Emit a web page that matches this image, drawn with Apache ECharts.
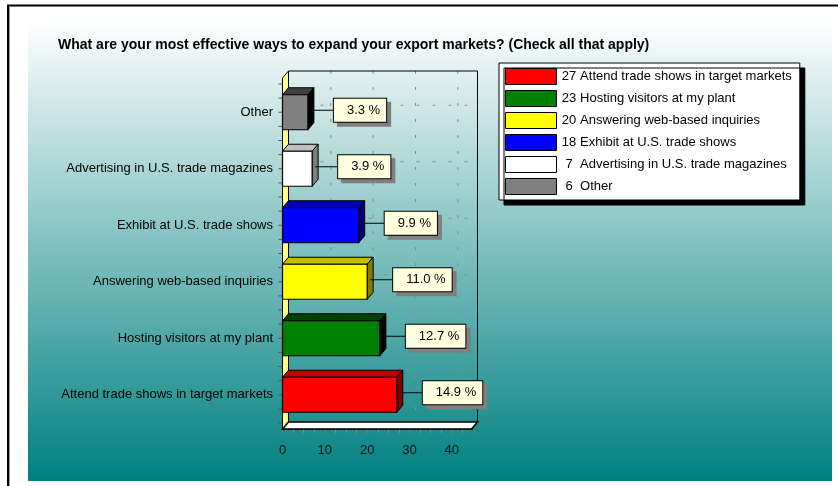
<!DOCTYPE html>
<html>
<head>
<meta charset="utf-8">
<script src="https://cdn.jsdelivr.net/npm/echarts@6/dist/echarts.min.js"></script>
<style>
  html, body { margin: 0; padding: 0; background: #ffffff; }
  #chart { width: 838px; height: 486px; }
</style>
</head>
<body>
<div id="chart"></div>
<script>
// Survey answers, bottom to top on the chart
const categories = [
  'Attend trade shows in target markets',
  'Hosting visitors at my plant',
  'Answering web-based inquiries',
  'Exhibit at U.S. trade shows',
  'Advertising in U.S. trade magazines',
  'Other'
];
const responses = [27, 23, 20, 18, 7, 6];
const percents = [14.9, 12.7, 11.0, 9.9, 3.9, 3.3];
const barColors = ['#ff0000', '#008000', '#ffff00', '#0000ff', '#ffffff', '#808080'];
const gridValues = [10, 20, 30, 40];
const axisMax = 45;

const FONT = '"Liberation Sans", Arial, sans-serif';
const DX = 6, DY = 7;          // depth of the pseudo-3D walls and bars

function shade(hex, amount) {
  const n = parseInt(hex.slice(1), 16);
  const r = Math.max(0, ((n >> 16) & 255) - amount);
  const g = Math.max(0, ((n >> 8) & 255) - amount);
  const b = Math.max(0, (n & 255) - amount);
  return 'rgb(' + r + ',' + g + ',' + b + ')';
}

// Walls, floor, back grid and category ticks
function renderFrame(params, api) {
  if (params.dataIndex !== 0) return;
  const o = api.coord([0, 0]);
  const bw = api.size([0, 1])[1];
  const n = categories.length;
  const x0 = o[0];
  const xe = api.coord([axisMax, 0])[0] - 1.5;
  const bottom = o[1] + bw / 2 + 6;
  const top = o[1] - bw * (n - 0.5) - 6;
  const children = [];
  const dash = { stroke: '#8a8a8a', lineWidth: 1, lineDash: [3, 13] };

  gridValues.forEach(function (v) {
    const x = api.coord([v, 0])[0] + DX;
    children.push({ type: 'line', shape: { x1: x, y1: top - DY, x2: x, y2: bottom - DY }, style: dash });
  });
  for (let i = 0; i < n; i++) {
    const y = api.coord([0, i])[1] - DY;
    children.push({ type: 'line', shape: { x1: x0 + DX, y1: y, x2: xe + DX, y2: y }, style: dash });
  }
  children.push({
    type: 'polyline',
    shape: { points: [[x0 + DX, top - DY], [xe + DX, top - DY], [xe + DX, bottom - DY]] },
    style: { stroke: '#000', lineWidth: 1, fill: null }
  });
  children.push({
    type: 'polygon',
    shape: { points: [[x0, bottom], [x0, top], [x0 + DX, top - DY], [x0 + DX, bottom - DY]] },
    style: { fill: '#ffff80', stroke: '#000', lineWidth: 1 }
  });
  children.push({
    type: 'polygon',
    shape: { points: [[x0, bottom], [xe, bottom], [xe + DX, bottom - DY], [x0 + DX, bottom - DY]] },
    style: { fill: '#ffffff', stroke: '#000', lineWidth: 1.5 }
  });
  for (let k = 0; k <= n * 4; k++) {
    const y = o[1] + bw / 2 - k * bw / 4;
    children.push({ type: 'line', shape: { x1: x0 - 4, y1: y, x2: x0, y2: y }, style: { stroke: '#555', lineWidth: 1 } });
  }
  return { type: 'group', children: children };
}

// One 3D bar with its percentage call-out
function renderBar(params, api) {
  const v = api.value(0);
  const i = api.value(1);
  const a = api.coord([0, i]);
  const b = api.coord([v, i]);
  const h = api.size([0, 1])[1] * 0.62;
  const x0 = a[0], x1 = b[0];
  const yt = a[1] - h / 2, yb = a[1] + h / 2;
  const c = barColors[i];
  const ly = a[1] - 2;
  const lx = x1 + DX + 20;
  const txt = percents[i].toFixed(1) + ' %';
  const boxStyle = {
    text: txt, x: lx, y: ly, font: '13px ' + FONT, align: 'left', verticalAlign: 'middle',
    padding: [5, 6, 5, 13], borderWidth: 1
  };
  return {
    type: 'group',
    children: [
      { type: 'polygon', shape: { points: [[x0, yt], [x1, yt], [x1 + DX, yt - DY], [x0 + DX, yt - DY]] },
        style: { fill: shade(c, 64), stroke: '#000', lineWidth: 1 } },
      { type: 'polygon', shape: { points: [[x1, yt], [x1 + DX, yt - DY], [x1 + DX, yb - DY], [x1, yb]] },
        style: { fill: shade(c, 128), stroke: '#000', lineWidth: 1 } },
      { type: 'rect', shape: { x: x0, y: yt, width: x1 - x0, height: h },
        style: { fill: c, stroke: '#000', lineWidth: 1.2 } },
      { type: 'line', shape: { x1: x1 + DX / 2, y1: ly, x2: lx, y2: ly },
        style: { stroke: '#000', lineWidth: 1 } },
      { type: 'text', x: 4, y: 4,
        style: Object.assign({}, boxStyle, { fill: 'rgba(0,0,0,0)', backgroundColor: '#7f7f7f', borderColor: '#7f7f7f' }) },
      { type: 'text',
        style: Object.assign({}, boxStyle, { fill: '#000', backgroundColor: '#ffffe0', borderColor: '#000' }) }
    ]
  };
}

const series = [{
  type: 'custom',
  name: 'frame',
  silent: true,
  z: 1,
  data: [[0, 0]],
  encode: { x: 0, y: 1 },
  renderItem: renderFrame
}];
categories.forEach(function (name, i) {
  series.push({
    type: 'custom',
    name: name,
    z: 3,
    data: [[responses[i], i]],
    encode: { x: 0, y: 1 },
    itemStyle: { color: barColors[i], borderColor: '#000', borderWidth: 1 },
    renderItem: renderBar
  });
});

const chart = echarts.init(document.getElementById('chart'), null, { renderer: 'canvas' });
chart.setOption({
  animation: false,
  textStyle: { fontFamily: FONT },
  graphic: [
    { type: 'rect', z: -10, shape: { x: 28, y: 19, width: 804, height: 462 },
      style: { fill: { type: 'linear', x: 0, y: 0, x2: 0, y2: 1,
        colorStops: [{ offset: 0, color: '#ffffff' }, { offset: 1, color: '#008080' }] } } },
    { type: 'line', z: -9, shape: { x1: 7, y1: 5.5, x2: 838, y2: 5.5 }, style: { stroke: '#000', lineWidth: 2 } },
    { type: 'line', z: -9, shape: { x1: 8, y1: 5, x2: 8, y2: 486 }, style: { stroke: '#000', lineWidth: 2 } },
    { type: 'line', z: -9, shape: { x1: 9.5, y1: 7, x2: 9.5, y2: 486 }, style: { stroke: '#999', lineWidth: 1 } }
  ],
  title: {
    text: 'What are your most effective ways to expand your export markets? (Check all that apply)',
    left: 58, top: 38, padding: 0,
    textStyle: { fontSize: 14, fontWeight: 'bold', color: '#000', fontFamily: FONT }
  },
  legend: {
    data: categories,
    orient: 'vertical',
    left: 499, top: 63,
    padding: [5, 8, 5, 6],
    itemGap: 5, itemWidth: 51, itemHeight: 16,
    icon: 'rect',
    selectedMode: false,
    backgroundColor: '#ffffff', borderColor: '#000', borderWidth: 1,
    shadowColor: '#000', shadowBlur: 0, shadowOffsetX: 5, shadowOffsetY: 5,
    itemStyle: { borderColor: '#000', borderWidth: 1 },
    textStyle: { fontSize: 13, lineHeight: 16, color: '#000', fontFamily: FONT,
      rich: { n: { width: 15, align: 'right', fontSize: 13, lineHeight: 16, fontFamily: FONT, color: '#000' } } },
    formatter: function (name) {
      return '{n|' + responses[categories.indexOf(name)] + '} ' + name;
    }
  },
  grid: { left: 282.5, right: 365, top: 84, bottom: 63 },
  xAxis: {
    type: 'value', min: 0, max: axisMax, interval: 10, offset: 6,
    axisLine: { show: true, lineStyle: { color: '#000', width: 1.5 } },
    axisTick: { show: true, length: 5, lineStyle: { color: '#777' } },
    minorTick: { show: true, splitNumber: 4, length: 4, lineStyle: { color: '#888' } },
    splitLine: { show: false },
    axisLabel: { margin: 15, fontSize: 13, color: '#111', fontFamily: FONT, showMaxLabel: false }
  },
  yAxis: {
    type: 'category', data: categories,
    axisLine: { show: false }, axisTick: { show: false }, splitLine: { show: false },
    axisLabel: { margin: 9.5, fontSize: 13, color: '#000', fontFamily: FONT }
  },
  series: series
});
</script>
</body>
</html>
